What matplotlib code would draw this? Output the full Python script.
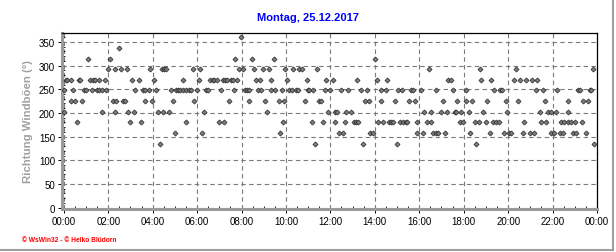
# Windböen-Richtung, Tagesverlauf (WsWin-Stil)
import matplotlib
matplotlib.use("Agg")
import matplotlib.pyplot as plt
from matplotlib.lines import Line2D
from matplotlib.ticker import MultipleLocator, FuncFormatter

plt.rcParams['font.family'] = ['Liberation Sans', 'DejaVu Sans']

TITLE = "Montag, 25.12.2017"
YLABEL = "Richtung Windböen (°)"
FOOTER = "© WsWin32 - © Heiko Blüdorn"

# Messzeitpunkte (Minuten nach Mitternacht) je Richtungsstufe
min_360 = [479]
min_3375 = [150]
min_315 = [65, 125, 463, 508, 568, 840]
min_2925 = [120, 137, 155, 170, 234, 265, 270, 276, 350, 369, 474, 485, 515, 539,
            555, 598, 620, 636, 643, 685, 986, 1123, 1220, 1429]
min_270 = [5, 10, 20, 40, 45, 70, 78, 85, 95, 110, 185, 202, 245, 321, 366, 396,
           402, 407, 413, 431, 436, 441, 452, 458, 469, 519, 530, 560, 604, 656,
           708, 726, 793, 845, 874, 1038, 1045, 1128, 1155, 1215, 1233, 1249,
           1265, 1279]
min_2475 = [0, 25, 55, 60, 75, 90, 95, 103, 115, 193, 213, 220, 229, 249, 290, 303,
            308, 315, 323, 330, 337, 344, 360, 384, 389, 425, 460, 490, 496, 501,
            524, 533, 560, 571, 589, 609, 616, 627, 633, 660, 663, 674, 705, 719,
            750, 768, 804, 820, 856, 869, 903, 914, 939, 944, 964, 1004, 1051,
            1085, 1162, 1178, 1184, 1274, 1294, 1332, 1388, 1393, 1420, 1424]
min_225 = [20, 31, 49, 132, 142, 160, 166, 220, 238, 296, 353, 445, 499, 544, 580,
           595, 651, 690, 694, 813, 824, 858, 894, 932, 948, 1025, 1063, 1087,
           1103, 1144, 1195, 1227, 1299, 1362, 1402, 1415]
min_2025 = [0, 103, 139, 173, 189, 254, 268, 285, 378, 550, 714, 732, 737, 762, 777,
            973, 991, 1018, 1034, 1056, 1060, 1074, 1094, 1133, 1198, 1285, 1308,
            1315, 1328, 1361]
min_180 = [36, 178, 209, 330, 418, 432, 591, 669, 699, 733, 760, 784, 789, 795, 849,
           863, 878, 883, 890, 908, 915, 923, 926, 955, 980, 991, 1069, 1079, 1110,
           1121, 1139, 1159, 1168, 1175, 1243, 1288, 1303, 1343, 1350, 1361, 1371,
           1380, 1400]
min_1575 = [301, 373, 584, 742, 755, 827, 834, 955, 969, 998, 1006, 1011, 1029, 1097,
            1150, 1189, 1202, 1209, 1240, 1258, 1269, 1315, 1323, 1341, 1348, 1375,
            1384, 1409]
min_135 = [259, 679, 809, 899, 1114, 1433]

levels = [360, 337.5, 315, 292.5, 270, 247.5, 225, 202.5, 180, 157.5, 135]
times = [min_360, min_3375, min_315, min_2925, min_270, min_2475, min_225,
         min_2025, min_180, min_1575, min_135]

x = []
y = []
for lev, mins in zip(levels, times):
    for m in mins:
        x.append(m / 60)
        y.append(lev)

fig = plt.figure(figsize=(6.16, 2.53), dpi=100)
ax = fig.add_axes([62 / 616, 1 - 210 / 253, 535 / 616, 176.5 / 253])

ax.plot(x, y, "D", ms=2.6, mfc="#7c7c7c", mec="#262626", mew=0.5, zorder=3)

ax.set_xlim(-0.08, 24)
ax.set_ylim(-3, 370)
ax.xaxis.set_major_locator(MultipleLocator(2))
ax.xaxis.set_minor_locator(MultipleLocator(0.5))
ax.yaxis.set_major_locator(MultipleLocator(50))
ax.yaxis.set_minor_locator(MultipleLocator(10))
ax.xaxis.set_major_formatter(FuncFormatter(lambda v, p: "%02d:00" % (int(round(v)) if v < 23.9 else 0)))

ax.grid(True, which="major", color="#7a7a7a", ls=(0, (4, 3)), lw=0.8)
ax.set_axisbelow(True)

for s in ["left", "bottom"]:
    ax.spines[s].set_color("#9a9a9a")
    ax.spines[s].set_linewidth(2.2)
for s in ["top", "right"]:
    ax.spines[s].set_color("black")
    ax.spines[s].set_linewidth(0.9)

ax.tick_params(which="major", direction="out", length=3, width=0.7, labelsize=7, pad=2)
ax.tick_params(which="minor", direction="in", length=2.5, width=0.6)
ax.tick_params(axis="x", which="minor", top=False)

ax.set_ylabel(YLABEL, color="#a0a0a0", fontsize=8.2, fontweight="bold", labelpad=4)
fig.text(0.5, 1 - 18 / 253, TITLE, ha="center", va="center", color="#0000ff",
         fontsize=8, fontweight="bold")
fig.text(22 / 616, 1 - 241 / 253, FOOTER, ha="left", va="center", color="#ff0000",
         fontsize=4.8, fontweight="bold")

# Rahmen rechts und unten
fig.add_artist(Line2D([613 / 616, 613 / 616], [1 - 251 / 253, 1], color="#a0a0a0", lw=1.5))
fig.add_artist(Line2D([0, 613 / 616], [1 - 251 / 253, 1 - 251 / 253], color="#a0a0a0", lw=1.5))

fig.savefig("out.png", dpi=100)
